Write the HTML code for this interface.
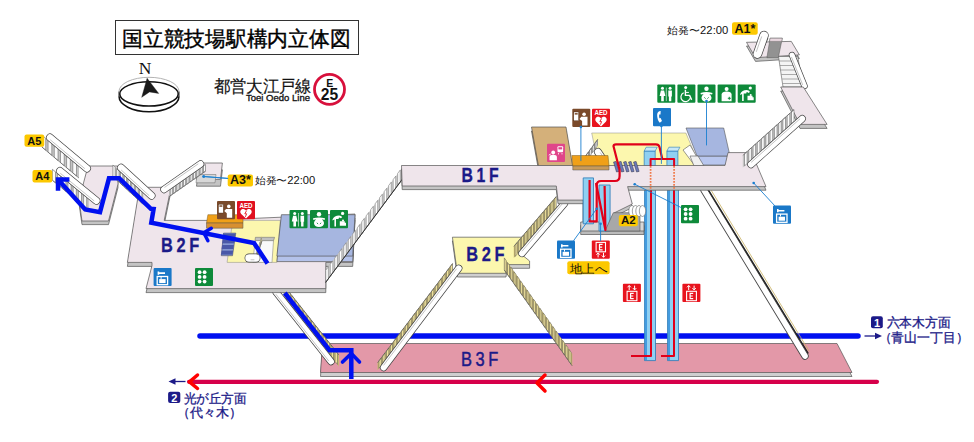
<!DOCTYPE html>
<html><head><meta charset="utf-8"><style>
html,body{margin:0;padding:0;background:#fff;width:974px;height:442px;overflow:hidden}
svg{display:block}
</style></head><body>
<svg width="974" height="442" viewBox="0 0 974 442">
<rect x="115.5" y="20.5" width="243" height="34" fill="#fff" stroke="#333" stroke-width="1"/>
<text x="122" y="45.6" font-size="20.5" fill="#000" font-weight="normal" text-anchor="start" font-family="Liberation Sans" textLength="228.5" lengthAdjust="spacingAndGlyphs" stroke="#000" stroke-width="0.4">国立競技場駅構内立体図</text>
<path d="M119,91.4 A30,14.1 0 0 1 179,91.4" fill="none" stroke="#aaa" stroke-width="0.9"/>
<path d="M119,96.3 A30,15.5 0 0 0 179,96.3" fill="none" stroke="#111" stroke-width="1.5"/>
<path d="M119 91.4v4.9 M179 91.4v4.9" stroke="#333" stroke-width="1.1"/>
<ellipse cx="149" cy="93.9" rx="29.2" ry="12.1" fill="none" stroke="#111" stroke-width="1.5"/>
<path d="M147.1,78.3 L158.7,93.4 L149.5,91.9 L141.7,97.3 Z" fill="#1a1a1a" stroke="#1a1a1a" stroke-width="0.4" />
<text x="145" y="74.3" font-size="17.5" fill="#111" font-weight="normal" text-anchor="middle" font-family="Liberation Serif" >N</text>
<text x="213.5" y="91.7" font-size="16.6" fill="#111" font-weight="normal" text-anchor="start" font-family="Liberation Sans" textLength="98" lengthAdjust="spacingAndGlyphs" stroke="#111" stroke-width="0.2">都営大江戸線</text>
<text x="246" y="100.6" font-size="8.5" fill="#111" font-weight="normal" text-anchor="start" font-family="Liberation Sans" textLength="64" lengthAdjust="spacingAndGlyphs" stroke="#111" stroke-width="0.3">Toei Oedo Line</text>
<circle cx="329.5" cy="89.3" r="15" fill="#fff" stroke="#d8103c" stroke-width="2.8"/>
<text x="329.8" y="86.8" font-size="10.5" fill="#111" font-weight="bold" text-anchor="middle" font-family="Liberation Sans" >E</text>
<text x="329.5" y="100" font-size="15.6" fill="#111" font-weight="bold" text-anchor="middle" font-family="Liberation Sans" >25</text>
<polygon points="322.5,347.5 837.0,347.5 852.0,376.5 320.5,376.5" fill="#cfcfcf" stroke="#555" stroke-width="0.7" stroke-linejoin="round" />
<polygon points="322.5,343.5 837.0,343.5 852.0,372.5 320.5,372.5" fill="#e398a8" stroke="#555" stroke-width="0.7" stroke-linejoin="round" />
<line x1="200.0" y1="336.0" x2="858.0" y2="336.0" stroke="#0010f0" stroke-width="5.5" stroke-linecap="round" />
<line x1="189.0" y1="381.8" x2="877.0" y2="381.8" stroke="#d6004a" stroke-width="4.2" stroke-linecap="round" />
<path d="M197.5,375 L189.5,381.8 L197.5,388.5" fill="none" stroke="#ff0000" stroke-width="3.5" stroke-linecap="round" stroke-linejoin="round"/>
<path d="M545,375 L537,383 L545,391" fill="none" stroke="#ff0000" stroke-width="3.5" stroke-linecap="round" stroke-linejoin="round"/>
<path d="M185.5,381.5 H174" fill="none" stroke="#1c1a88" stroke-width="1.3" />
<path d="M168.5,381.5 L175.5,378.3 L175.5,384.7 Z" fill="#1c1a88" stroke="none" stroke-width="0" />
<path d="M864.5,336 H876" fill="none" stroke="#1c1a88" stroke-width="1.3" />
<path d="M882,336 L875,332.8 L875,339.2 Z" fill="#1c1a88" stroke="none" stroke-width="0" />
<rect x="168.1" y="391.7" width="12.2" height="11.3" rx="2" fill="#1c1a88"/>
<text x="174.4" y="401.6" font-size="11" fill="#fff" font-weight="bold" text-anchor="middle" font-family="Liberation Sans" >2</text>
<text x="183.5" y="402.5" font-size="12.8" fill="#1c1a88" font-weight="normal" text-anchor="start" font-family="Liberation Sans" textLength="63" lengthAdjust="spacingAndGlyphs" stroke="#1c1a88" stroke-width="0.3">光が丘方面</text>
<text x="176.5" y="416.8" font-size="13" fill="#1c1a88" font-weight="normal" text-anchor="start" font-family="Liberation Sans" textLength="65" lengthAdjust="spacingAndGlyphs" stroke="#1c1a88" stroke-width="0.3">（代々木）</text>
<rect x="871" y="316.2" width="11.8" height="12" rx="2" fill="#1c1a88"/>
<text x="877" y="326.9" font-size="11" fill="#fff" font-weight="bold" text-anchor="middle" font-family="Liberation Sans" >1</text>
<text x="886.5" y="327.3" font-size="13" fill="#1c1a88" font-weight="normal" text-anchor="start" font-family="Liberation Sans" textLength="64" lengthAdjust="spacingAndGlyphs" stroke="#1c1a88" stroke-width="0.3">六本木方面</text>
<text x="878.5" y="341.8" font-size="13" fill="#1c1a88" font-weight="normal" text-anchor="start" font-family="Liberation Sans" textLength="90" lengthAdjust="spacingAndGlyphs" stroke="#1c1a88" stroke-width="0.3">（青山一丁目）</text>
<polygon points="284.0,285.6 339.0,355.1 339.0,366.4 284.0,296.9" fill="#c8b870" stroke="none" stroke-width="0" stroke-linejoin="round" />
<path d="M284.0,285.6 L286.4,288.6 L286.4,299.9 L284.0,296.9 Z M288.0,290.6 L290.3,293.6 L290.3,304.9 L288.0,301.9 Z M291.9,295.6 L294.3,298.5 L294.3,309.8 L291.9,306.8 Z M295.8,300.5 L298.2,303.5 L298.2,314.8 L295.8,311.8 Z M299.8,305.5 L302.1,308.5 L302.1,319.8 L299.8,316.8 Z M303.7,310.5 L306.0,313.4 L306.0,324.7 L303.7,321.7 Z M307.6,315.4 L310.0,318.4 L310.0,329.7 L307.6,326.7 Z M311.5,320.4 L313.9,323.4 L313.9,334.6 L311.5,331.7 Z M315.5,325.4 L317.8,328.3 L317.8,339.6 L315.5,336.6 Z M319.4,330.3 L321.8,333.3 L321.8,344.6 L319.4,341.6 Z M323.3,335.3 L325.7,338.3 L325.7,349.5 L323.3,346.6 Z M327.3,340.2 L329.6,343.2 L329.6,354.5 L327.3,351.5 Z M331.2,345.2 L333.5,348.2 L333.5,359.5 L331.2,356.5 Z M335.1,350.2 L337.5,353.2 L337.5,364.4 L335.1,361.5 Z " fill="#efe29a" stroke="#555" stroke-width="0.5" />
<line x1="284.0" y1="285.6" x2="339.0" y2="355.1" stroke="#555" stroke-width="0.6" stroke-linecap="butt" />
<line x1="276.0" y1="292.0" x2="331.0" y2="361.5" stroke="#444" stroke-width="7.4" stroke-linecap="round" />
<line x1="276.0" y1="292.0" x2="331.0" y2="361.5" stroke="#ffffff" stroke-width="6.0" stroke-linecap="round" />
<line x1="276.1" y1="294.5" x2="328.6" y2="360.8" stroke="#9a9a9a" stroke-width="0.6" stroke-linecap="round" />
<polygon points="452.4,240.9 524.6,240.9 521.0,257.7 529.6,264.7 529.6,268.3 507.2,268.3 506.0,277.0 457.4,277.0 456.2,268.3" fill="#cfcfcf" stroke="#555" stroke-width="0.7" stroke-linejoin="round" />
<polygon points="452.4,237.2 524.6,237.2 521.0,254.0 529.6,261.0 529.6,264.6 507.2,264.6 506.0,273.3 457.4,273.3 456.2,264.6" fill="#fcf7ae" stroke="#555" stroke-width="0.7" stroke-linejoin="round" />
<polygon points="452.5,263.6 377.5,362.8 377.5,370.3 452.5,271.1" fill="#c8b870" stroke="none" stroke-width="0" stroke-linejoin="round" />
<path d="M452.5,263.6 L450.3,266.6 L450.3,274.1 L452.5,271.1 Z M448.8,268.6 L446.5,271.6 L446.5,279.0 L448.8,276.0 Z M445.0,273.5 L442.8,276.5 L442.8,284.0 L445.0,281.0 Z M441.3,278.5 L439.0,281.5 L439.0,288.9 L441.3,286.0 Z M437.5,283.5 L435.3,286.4 L435.3,293.9 L437.5,290.9 Z M433.8,288.4 L431.5,291.4 L431.5,298.9 L433.8,295.9 Z M430.0,293.4 L427.8,296.4 L427.8,303.8 L430.0,300.8 Z M426.3,298.3 L424.0,301.3 L424.0,308.8 L426.3,305.8 Z M422.5,303.3 L420.3,306.3 L420.3,313.7 L422.5,310.8 Z M418.8,308.3 L416.5,311.2 L416.5,318.7 L418.8,315.7 Z M415.0,313.2 L412.8,316.2 L412.8,323.7 L415.0,320.7 Z M411.3,318.2 L409.0,321.2 L409.0,328.6 L411.3,325.6 Z M407.5,323.1 L405.3,326.1 L405.3,333.6 L407.5,330.6 Z M403.8,328.1 L401.5,331.1 L401.5,338.5 L403.8,335.6 Z M400.0,333.1 L397.8,336.0 L397.8,343.5 L400.0,340.5 Z M396.3,338.0 L394.0,341.0 L394.0,348.5 L396.3,345.5 Z M392.5,343.0 L390.3,346.0 L390.3,353.4 L392.5,350.4 Z M388.8,347.9 L386.5,350.9 L386.5,358.4 L388.8,355.4 Z M385.0,352.9 L382.8,355.9 L382.8,363.3 L385.0,360.4 Z M381.3,357.9 L379.0,360.8 L379.0,368.3 L381.3,365.3 Z " fill="#efe29a" stroke="#555" stroke-width="0.5" />
<line x1="452.5" y1="263.6" x2="377.5" y2="362.8" stroke="#555" stroke-width="0.6" stroke-linecap="butt" />
<line x1="458.7" y1="268.3" x2="383.7" y2="367.5" stroke="#444" stroke-width="7.4" stroke-linecap="round" />
<line x1="458.7" y1="268.3" x2="383.7" y2="367.5" stroke="#ffffff" stroke-width="6.0" stroke-linecap="round" />
<line x1="456.4" y1="269.0" x2="383.8" y2="365.0" stroke="#9a9a9a" stroke-width="0.6" stroke-linecap="round" />
<polygon points="504.3,270.0 572.3,366.0 572.3,353.9 504.3,257.9" fill="#c8b870" stroke="none" stroke-width="0" stroke-linejoin="round" />
<path d="M504.3,270.0 L506.2,272.8 L506.2,260.7 L504.3,257.9 Z M507.5,274.6 L509.5,277.4 L509.5,265.3 L507.5,262.5 Z M510.8,279.2 L512.7,281.9 L512.7,269.8 L510.8,267.1 Z M514.0,283.8 L515.9,286.5 L515.9,274.4 L514.0,271.7 Z M517.2,288.3 L519.2,291.1 L519.2,279.0 L517.2,276.2 Z M520.5,292.9 L522.4,295.6 L522.4,283.5 L520.5,280.8 Z M523.7,297.5 L525.7,300.2 L525.7,288.1 L523.7,285.4 Z M527.0,302.0 L528.9,304.8 L528.9,292.7 L527.0,289.9 Z M530.2,306.6 L532.1,309.4 L532.1,297.3 L530.2,294.5 Z M533.4,311.2 L535.4,313.9 L535.4,301.8 L533.4,299.1 Z M536.7,315.8 L538.6,318.5 L538.6,306.4 L536.7,303.7 Z M539.9,320.3 L541.8,323.1 L541.8,311.0 L539.9,308.2 Z M543.1,324.9 L545.1,327.6 L545.1,315.5 L543.1,312.8 Z M546.4,329.5 L548.3,332.2 L548.3,320.1 L546.4,317.4 Z M549.6,334.0 L551.6,336.8 L551.6,324.7 L549.6,321.9 Z M552.9,338.6 L554.8,341.4 L554.8,329.3 L552.9,326.5 Z M556.1,343.2 L558.0,345.9 L558.0,333.8 L556.1,331.1 Z M559.3,347.8 L561.3,350.5 L561.3,338.4 L559.3,335.7 Z M562.6,352.3 L564.5,355.1 L564.5,343.0 L562.6,340.2 Z M565.8,356.9 L567.8,359.6 L567.8,347.5 L565.8,344.8 Z M569.0,361.5 L571.0,364.2 L571.0,352.1 L569.0,349.4 Z " fill="#efe29a" stroke="#555" stroke-width="0.5" />
<line x1="504.3" y1="270.0" x2="572.3" y2="366.0" stroke="#555" stroke-width="0.6" stroke-linecap="butt" />
<line x1="704.0" y1="190.0" x2="805.0" y2="356.0" stroke="#4a4a4a" stroke-width="7.4" stroke-linecap="round" />
<line x1="704.0" y1="190.0" x2="805.0" y2="356.0" stroke="#ffffff" stroke-width="5.6" stroke-linecap="round" />
<line x1="708.5" y1="190.0" x2="808.0" y2="353.0" stroke="#222" stroke-width="1.4" stroke-linecap="round" />
<line x1="711.0" y1="190.0" x2="809.0" y2="351.0" stroke="#c8b060" stroke-width="0.8" stroke-linecap="round" />
<polygon points="644.5,189.0 655.5,189.0 655.5,360.6 644.5,360.6" fill="#8fd0f2" stroke="#2a7ab8" stroke-width="0.8" stroke-linejoin="round" />
<line x1="646.0" y1="190.0" x2="646.0" y2="360.0" stroke="#2a8ad8" stroke-width="1.5" stroke-linecap="butt" />
<polygon points="667.5,189.0 678.5,189.0 678.5,360.6 667.5,360.6" fill="#8fd0f2" stroke="#2a7ab8" stroke-width="0.8" stroke-linejoin="round" />
<line x1="669.0" y1="190.0" x2="669.0" y2="360.0" stroke="#2a8ad8" stroke-width="1.5" stroke-linecap="butt" />
<path d="M651,189 V356 H631" fill="none" stroke="#e0001a" stroke-width="2" stroke-linejoin="round"/>
<path d="M674,189 V356 H661" fill="none" stroke="#e0001a" stroke-width="2" stroke-linejoin="round"/>
<polygon points="556.2,196.6 513.8,246.4 513.8,258.0 556.2,208.2" fill="#c8b870" stroke="none" stroke-width="0" stroke-linejoin="round" />
<path d="M556.2,196.6 L554.3,198.9 L554.3,210.5 L556.2,208.2 Z M553.0,200.5 L551.0,202.8 L551.0,214.3 L553.0,212.0 Z M549.7,204.3 L547.7,206.6 L547.7,218.2 L549.7,215.9 Z M546.4,208.1 L544.5,210.4 L544.5,222.0 L546.4,219.7 Z M543.2,212.0 L541.2,214.3 L541.2,225.8 L543.2,223.5 Z M539.9,215.8 L538.0,218.1 L538.0,229.7 L539.9,227.4 Z M536.6,219.6 L534.7,221.9 L534.7,233.5 L536.6,231.2 Z M533.4,223.4 L531.4,225.7 L531.4,237.3 L533.4,235.0 Z M530.1,227.3 L528.2,229.6 L528.2,241.1 L530.1,238.8 Z M526.9,231.1 L524.9,233.4 L524.9,245.0 L526.9,242.7 Z M523.6,234.9 L521.6,237.2 L521.6,248.8 L523.6,246.5 Z M520.3,238.8 L518.4,241.1 L518.4,252.6 L520.3,250.3 Z M517.1,242.6 L515.1,244.9 L515.1,256.5 L517.1,254.2 Z " fill="#efe29a" stroke="#555" stroke-width="0.5" />
<line x1="556.2" y1="196.6" x2="513.8" y2="246.4" stroke="#555" stroke-width="0.6" stroke-linecap="butt" />
<line x1="564.4" y1="203.6" x2="522.0" y2="253.4" stroke="#444" stroke-width="7.4" stroke-linecap="round" />
<line x1="564.4" y1="203.6" x2="522.0" y2="253.4" stroke="#ffffff" stroke-width="6.0" stroke-linecap="round" />
<line x1="562.0" y1="204.2" x2="522.2" y2="251.0" stroke="#9a9a9a" stroke-width="0.6" stroke-linecap="round" />
<polygon points="88.0,169.6 117.5,169.6 118.0,187.6 108.5,224.6 82.0,224.6 79.0,203.6" fill="#c4c4c4" stroke="#555" stroke-width="0.7" stroke-linejoin="round" />
<polygon points="88.0,166.0 117.5,166.0 118.0,184.0 108.5,221.0 82.0,221.0 79.0,200.0" fill="#efe5eb" stroke="#555" stroke-width="0.7" stroke-linejoin="round" />
<polygon points="139.5,191.3 171.0,191.3 164.2,224.4 207.0,224.4 355.0,218.0 352.7,266.4 325.8,266.4 325.8,292.6 146.0,292.6 152.0,269.5 152.0,266.4 127.4,266.4" fill="#c4c4c4" stroke="#555" stroke-width="0.7" stroke-linejoin="round" />
<polygon points="139.5,187.3 171.0,187.3 164.2,220.4 207.0,220.4 355.0,214.0 352.7,262.4 325.8,262.4 325.8,288.6 146.0,288.6 152.0,265.5 152.0,262.4 127.4,262.4" fill="#efe5eb" stroke="#555" stroke-width="0.7" stroke-linejoin="round" />
<polygon points="198.6,169.8 222.4,169.8 220.5,186.2 196.5,186.2" fill="#c4c4c4" stroke="#555" stroke-width="0.7" stroke-linejoin="round" />
<polygon points="198.6,163.0 222.4,163.0 220.5,179.4 196.5,179.4" fill="#efe5eb" stroke="#555" stroke-width="0.7" stroke-linejoin="round" />
<polygon points="197.0,174.5 216.0,174.5 215.0,182.8 196.0,182.8" fill="#d8d8d8" stroke="#666" stroke-width="0.5" stroke-linejoin="round" />
<polygon points="42.0,147.1 79.0,178.1 79.0,166.3 42.0,135.3" fill="#c4c4c4" stroke="none" stroke-width="0" stroke-linejoin="round" />
<path d="M42.0,147.1 L45.7,150.2 L45.7,138.4 L42.0,135.3 Z M48.1,152.2 L51.8,155.3 L51.8,143.6 L48.1,140.5 Z M54.3,157.4 L58.0,160.5 L58.0,148.8 L54.3,145.7 Z M60.5,162.6 L64.2,165.7 L64.2,153.9 L60.5,150.8 Z M66.6,167.7 L70.3,170.8 L70.3,159.1 L66.6,156.0 Z M72.8,172.9 L76.5,176.0 L76.5,164.3 L72.8,161.2 Z " fill="#fbfbfb" stroke="#555" stroke-width="0.5" />
<line x1="42.0" y1="147.1" x2="79.0" y2="178.1" stroke="#555" stroke-width="0.6" stroke-linecap="butt" />
<line x1="50.0" y1="137.5" x2="87.0" y2="168.5" stroke="#444" stroke-width="7.9" stroke-linecap="round" />
<line x1="50.0" y1="137.5" x2="87.0" y2="168.5" stroke="#ffffff" stroke-width="6.5" stroke-linecap="round" />
<line x1="50.5" y1="140.0" x2="84.5" y2="168.4" stroke="#9a9a9a" stroke-width="0.6" stroke-linecap="round" />
<polygon points="52.4,180.3 88.8,210.1 88.8,199.1 52.4,169.3" fill="#c4c4c4" stroke="none" stroke-width="0" stroke-linejoin="round" />
<path d="M52.4,180.3 L55.5,182.8 L55.5,171.9 L52.4,169.3 Z M57.6,184.5 L60.7,187.1 L60.7,176.1 L57.6,173.6 Z M62.8,188.8 L65.9,191.4 L65.9,180.4 L62.8,177.8 Z M68.0,193.1 L71.1,195.6 L71.1,184.6 L68.0,182.1 Z M73.2,197.3 L76.3,199.9 L76.3,188.9 L73.2,186.3 Z M78.4,201.6 L81.5,204.1 L81.5,193.1 L78.4,190.6 Z M83.6,205.8 L86.7,208.4 L86.7,197.4 L83.6,194.8 Z " fill="#fbfbfb" stroke="#555" stroke-width="0.5" />
<line x1="52.4" y1="180.3" x2="88.8" y2="210.1" stroke="#555" stroke-width="0.6" stroke-linecap="butt" />
<line x1="60.0" y1="171.0" x2="96.4" y2="200.8" stroke="#444" stroke-width="7.9" stroke-linecap="round" />
<line x1="60.0" y1="171.0" x2="96.4" y2="200.8" stroke="#ffffff" stroke-width="6.5" stroke-linecap="round" />
<line x1="60.6" y1="173.5" x2="93.9" y2="200.7" stroke="#9a9a9a" stroke-width="0.6" stroke-linecap="round" />
<polygon points="112.9,176.5 143.4,204.5 143.4,193.0 112.9,165.0" fill="#c4c4c4" stroke="none" stroke-width="0" stroke-linejoin="round" />
<path d="M112.9,176.5 L115.2,178.6 L115.2,167.1 L112.9,165.0 Z M116.7,180.0 L119.0,182.1 L119.0,170.6 L116.7,168.5 Z M120.5,183.5 L122.8,185.6 L122.8,174.1 L120.5,172.0 Z M124.3,187.0 L126.6,189.1 L126.6,177.6 L124.3,175.5 Z M128.1,190.5 L130.4,192.6 L130.4,181.1 L128.1,179.0 Z M131.9,194.0 L134.2,196.1 L134.2,184.6 L131.9,182.5 Z M135.8,197.5 L138.0,199.6 L138.0,188.1 L135.8,186.0 Z M139.6,201.0 L141.9,203.1 L141.9,191.6 L139.6,189.5 Z " fill="#fbfbfb" stroke="#555" stroke-width="0.5" />
<line x1="112.9" y1="176.5" x2="143.4" y2="204.5" stroke="#555" stroke-width="0.6" stroke-linecap="butt" />
<line x1="121.0" y1="167.7" x2="151.5" y2="195.7" stroke="#444" stroke-width="7.9" stroke-linecap="round" />
<line x1="121.0" y1="167.7" x2="151.5" y2="195.7" stroke="#ffffff" stroke-width="6.5" stroke-linecap="round" />
<line x1="121.4" y1="170.2" x2="149.0" y2="195.5" stroke="#9a9a9a" stroke-width="0.6" stroke-linecap="round" />
<polygon points="205.5,171.2 169.0,196.7 169.0,190.0 205.5,164.5" fill="#c4c4c4" stroke="none" stroke-width="0" stroke-linejoin="round" />
<path d="M205.5,171.2 L203.5,172.6 L203.5,165.9 L205.5,164.5 Z M202.2,173.5 L200.2,174.9 L200.2,168.2 L202.2,166.8 Z M198.9,175.8 L196.9,177.2 L196.9,170.5 L198.9,169.1 Z M195.6,178.1 L193.6,179.5 L193.6,172.8 L195.6,171.4 Z M192.2,180.4 L190.2,181.8 L190.2,175.1 L192.2,173.7 Z M188.9,182.8 L186.9,184.2 L186.9,177.4 L188.9,176.1 Z M185.6,185.1 L183.6,186.5 L183.6,179.8 L185.6,178.4 Z M182.3,187.4 L180.3,188.8 L180.3,182.1 L182.3,180.7 Z M179.0,189.7 L177.0,191.1 L177.0,184.4 L179.0,183.0 Z M175.6,192.0 L173.7,193.4 L173.7,186.7 L175.6,185.3 Z M172.3,194.4 L170.3,195.7 L170.3,189.0 L172.3,187.6 Z " fill="#fbfbfb" stroke="#555" stroke-width="0.5" />
<line x1="205.5" y1="171.2" x2="169.0" y2="196.7" stroke="#555" stroke-width="0.6" stroke-linecap="butt" />
<line x1="200.5" y1="164.0" x2="164.0" y2="189.5" stroke="#444" stroke-width="7.4" stroke-linecap="round" />
<line x1="200.5" y1="164.0" x2="164.0" y2="189.5" stroke="#ffffff" stroke-width="6.0" stroke-linecap="round" />
<line x1="198.0" y1="164.0" x2="164.8" y2="187.2" stroke="#9a9a9a" stroke-width="0.6" stroke-linecap="round" />
<polygon points="244.0,220.4 280.3,220.4 276.9,262.4 227.1,262.4 231.6,228.3" fill="#fcf7ae" stroke="#888" stroke-width="0.5" stroke-linejoin="round" />
<polygon points="281.4,220.2 355.0,220.2 352.7,261.6 276.9,261.6" fill="#b4c2ea" stroke="#555" stroke-width="0.7" stroke-linejoin="round" />
<polygon points="281.4,214.7 355.0,214.7 352.7,256.1 276.9,256.1" fill="#a6b6e0" stroke="#555" stroke-width="0.7" stroke-linejoin="round" />
<polygon points="223.5,233.1 235.8,233.1 232.5,255.7 221.3,255.7" fill="#9aaee0" stroke="#334" stroke-width="0.5" stroke-linejoin="round" />
<polygon points="223.3,233.6 235.6,233.6 234.9,238.0 222.6,238.0" fill="#4a58a8" stroke="none" stroke-width="0" stroke-linejoin="round" />
<polygon points="222.8,239.2 234.8,239.2 234.1,243.6 222.0,243.6" fill="#4a58a8" stroke="none" stroke-width="0" stroke-linejoin="round" />
<polygon points="222.2,244.8 234.0,244.8 233.3,249.2 221.5,249.2" fill="#4a58a8" stroke="none" stroke-width="0" stroke-linejoin="round" />
<polygon points="221.7,250.4 233.2,250.4 232.5,254.8 220.9,254.8" fill="#4a58a8" stroke="none" stroke-width="0" stroke-linejoin="round" />
<polygon points="255.4,237.3 274.6,237.3 273.5,240.7 255.0,240.7" fill="#c0c0c0" stroke="#666" stroke-width="0.5" stroke-linejoin="round" />
<polygon points="255.0,240.7 273.5,240.7 272.0,262.4 253.0,262.4" fill="#fafafa" stroke="#777" stroke-width="0.5" stroke-linejoin="round" />
<polygon points="255.0,262.0 262.0,241.0 262.0,236.0 255.0,257.0" fill="#d8cc88" stroke="none" stroke-width="0" stroke-linejoin="round" />
<path d="M255.0,262.0 L255.8,259.5 L255.8,254.5 L255.0,257.0 Z M256.4,257.8 L257.2,255.3 L257.2,250.3 L256.4,252.8 Z M257.8,253.6 L258.6,251.1 L258.6,246.1 L257.8,248.6 Z M259.2,249.4 L260.0,246.9 L260.0,241.9 L259.2,244.4 Z M260.6,245.2 L261.4,242.7 L261.4,237.7 L260.6,240.2 Z " fill="#f4ecb0" stroke="#777" stroke-width="0.5" />
<line x1="255.0" y1="262.0" x2="262.0" y2="241.0" stroke="#555" stroke-width="0.6" stroke-linecap="butt" />
<line x1="249.0" y1="258.0" x2="256.0" y2="258.0" stroke="#444" stroke-width="8.9" stroke-linecap="round" />
<line x1="249.0" y1="258.0" x2="256.0" y2="258.0" stroke="#ffffff" stroke-width="7.5" stroke-linecap="round" />
<line x1="251.0" y1="259.8" x2="254.0" y2="259.8" stroke="#9a9a9a" stroke-width="0.6" stroke-linecap="round" />
<polygon points="207.9,214.7 243.0,214.7 243.0,223.0 206.5,223.0" fill="#f0a018" stroke="#7a5a20" stroke-width="0.5" stroke-linejoin="round" />
<polygon points="206.5,223.0 243.0,223.0 243.0,228.2 206.5,228.2" fill="#d89030" stroke="#555" stroke-width="0.5" stroke-linejoin="round" />
<rect x="217" y="201" width="18" height="18.2" rx="1" fill="#7a4a2a"/>
<g transform="translate(217,201)"><rect x="1.5" y="3.2" width="4.8" height="8.8" fill="#fff" stroke="#4a2a10" stroke-width="0.4"/><rect x="2.4" y="4.3" width="3" height="1.5" fill="#7a4a2a"/><circle cx="11.8" cy="5.4" r="1.8" fill="#fff"/><path d="M9 8h6.2v8.8h-5.4v-4.5l-2.6-2.2 0.8-0.8z" fill="#fff"/></g>
<rect x="237" y="201" width="18" height="18.2" rx="1" fill="#e01020"/>
<g transform="translate(237,201)"><text x="9" y="6.6" font-size="6.6" font-weight="bold" textLength="13" lengthAdjust="spacingAndGlyphs" fill="#fff" text-anchor="middle" font-family="Liberation Sans">AED</text><path d="M9 17.6l-4.8-4.6c-1.4-1.5-1.2-3.9 0.6-4.8 1.5-0.7 3.2-0.1 4.2 1.4 1-1.5 2.7-2.1 4.2-1.4 1.8 0.9 2 3.3 0.6 4.8z" fill="#fff"/><path d="M9.6 9.6l-1.8 3.2h1.8l-1.2 3" stroke="#e8141e" stroke-width="0.9" fill="none"/></g>
<rect x="289.5" y="210" width="18" height="18.2" rx="1" fill="#0e8a3a"/>
<g transform="translate(289.5,210)"><circle cx="5.2" cy="3.6" r="1.5" fill="#fff"/><path d="M3.6 5.8h3.2l1.3 5.6h-1.6v5.2h-2.6v-5.2h-1.6z" fill="#fff"/><path d="M9 3v13.5" stroke="#fff" stroke-width="0.6"/><circle cx="12.8" cy="3.6" r="1.5" fill="#fff"/><path d="M11 5.8h3.6v6h-0.6v4.8h-2.4v-4.8h-0.6z" fill="#fff"/></g>
<rect x="310" y="210" width="18" height="18.2" rx="1" fill="#0e8a3a"/>
<g transform="translate(310,210)"><circle cx="9" cy="4.2" r="2.2" fill="#fff"/><path d="M3 8.3c2-0.6 4-0.8 6-0.8s4 0.2 6 0.8l-0.4 1.6c-1.2-0.2-2.2-0.3-2.8-0.3 1.5 1 2.2 2.2 2.2 3.7 0 2.4-2.2 3.6-5 3.6s-5-1.2-5-3.6c0-1.5 0.7-2.7 2.2-3.7-0.6 0-1.6 0.1-2.8 0.3z" fill="#fff"/><path d="M6.8 12.8l1.3 1.2M11.2 12.8l-1.3 1.2" stroke="#0e8a3a" stroke-width="0.9"/></g>
<rect x="330" y="210" width="18" height="18.2" rx="1" fill="#0e8a3a"/>
<g transform="translate(330,210)"><circle cx="12.6" cy="3.4" r="1.6" fill="#fff"/><path d="M2.5 9.5c1-2.5 3.5-4 6.5-4 1.5 0 2.5 0.8 3.2 1.8l-1.4 1c-0.6-0.6-1.2-0.9-1.8-0.9l-0.5 1.6h-2.5v7.5h-1.6v-7c-0.8 0.3-1.4 0.6-1.9 1z" fill="#fff"/><path d="M9.8 11.2h5v1.5h1.2v3h-6.2z" fill="#fff"/><circle cx="13" cy="10.5" r="1" fill="#fff"/></g>
<rect x="153.6" y="267.9" width="18" height="18.2" rx="1" fill="#1a78c8"/>
<g transform="translate(153.6,267.9)"><path d="M4.8 3.6v3.2M4.8 5.2h6.6" stroke="#fff" stroke-width="1.6"/><rect x="3.6" y="8.6" width="10.4" height="8.2" fill="none" stroke="#fff" stroke-width="1.3"/><rect x="5.6" y="11.2" width="6.4" height="4" fill="#fff"/><path d="M7.5 8.6v2.4" stroke="#fff" stroke-width="1"/></g>
<rect x="195" y="267.9" width="18" height="18.2" rx="1" fill="#0e8a3a"/>
<g transform="translate(195,267.9)"><circle cx="4.6" cy="4.3" r="1.9" fill="#fff"/><circle cx="4.6" cy="9" r="1.9" fill="#fff"/><circle cx="4.6" cy="13.7" r="1.9" fill="#fff"/><circle cx="9.6" cy="4.3" r="1.9" fill="#fff"/><circle cx="9.6" cy="9" r="1.9" fill="#fff"/><circle cx="9.6" cy="13.7" r="1.9" fill="#fff"/></g>
<rect x="24.5" y="134.5" width="19.700000000000003" height="12.199999999999989" rx="2" fill="#fcc800"/>
<text x="34.35" y="144.5" font-size="11" fill="#111" font-weight="bold" text-anchor="middle" font-family="Liberation Sans" >A5</text>
<rect x="32.5" y="170" width="19.799999999999997" height="12.5" rx="2" fill="#fcc800"/>
<text x="42.4" y="180.3" font-size="11" fill="#111" font-weight="bold" text-anchor="middle" font-family="Liberation Sans" >A4</text>
<rect x="227.7" y="174.4" width="25.30000000000001" height="12.199999999999989" rx="2" fill="#fcc800"/>
<text x="240.35" y="184.4" font-size="12.5" fill="#111" font-weight="bold" text-anchor="middle" font-family="Liberation Sans" >A3*</text>
<text x="254.7" y="184" font-size="10.3" fill="#111" font-weight="normal" text-anchor="start" font-family="Liberation Sans" textLength="60.5" lengthAdjust="spacingAndGlyphs" >始発〜22:00</text>
<line x1="203.7" y1="176.5" x2="227.7" y2="178.4" stroke="#1a7fd0" stroke-width="0.9" stroke-linecap="round" />
<circle cx="203.7" cy="176.5" r="1.3" fill="#1a7fd0"/>
<polygon points="325.8,282.2 402.2,179.4 402.2,167.4 325.8,270.2" fill="#cfcfcf" stroke="none" stroke-width="0" stroke-linejoin="round" />
<path d="M325.8,282.2 L328.3,278.9 L328.3,266.9 L325.8,270.2 Z M330.3,276.2 L332.8,272.8 L332.8,260.8 L330.3,264.2 Z M334.8,270.1 L337.3,266.8 L337.3,254.8 L334.8,258.1 Z M339.3,264.1 L341.8,260.7 L341.8,248.7 L339.3,252.1 Z M343.8,258.0 L346.2,254.7 L346.2,242.7 L343.8,246.0 Z M348.3,252.0 L350.7,248.6 L350.7,236.6 L348.3,240.0 Z M352.8,245.9 L355.2,242.6 L355.2,230.6 L352.8,233.9 Z M357.3,239.9 L359.7,236.5 L359.7,224.5 L357.3,227.9 Z M361.8,233.8 L364.2,230.5 L364.2,218.5 L361.8,221.8 Z M366.2,227.8 L368.7,224.5 L368.7,212.5 L366.2,215.8 Z M370.7,221.7 L373.2,218.4 L373.2,206.4 L370.7,209.7 Z M375.2,215.7 L377.7,212.4 L377.7,200.4 L375.2,203.7 Z M379.7,209.6 L382.2,206.3 L382.2,194.3 L379.7,197.6 Z M384.2,203.6 L386.7,200.3 L386.7,188.3 L384.2,191.6 Z M388.7,197.5 L391.2,194.2 L391.2,182.2 L388.7,185.5 Z M393.2,191.5 L395.7,188.2 L395.7,176.2 L393.2,179.5 Z M397.7,185.4 L400.2,182.1 L400.2,170.1 L397.7,173.4 Z " fill="#ffffff" stroke="#666" stroke-width="0.5" />
<line x1="325.8" y1="282.2" x2="402.2" y2="179.4" stroke="#555" stroke-width="0.6" stroke-linecap="butt" />
<line x1="325.8" y1="282.2" x2="402.2" y2="179.4" stroke="#333" stroke-width="1" stroke-linecap="round" />
<polygon points="531.5,131.0 566.0,131.0 572.6,170.0 538.5,170.0" fill="#b89a70" stroke="#555" stroke-width="0.7" stroke-linejoin="round" />
<polygon points="531.5,127.0 566.0,127.0 572.6,166.0 538.5,166.0" fill="#d4b07a" stroke="#555" stroke-width="0.7" stroke-linejoin="round" />
<rect x="547" y="143.7" width="18" height="18.2" rx="1" fill="#e0468a"/>
<g transform="translate(547,143.7)"><circle cx="6.2" cy="8.8" r="1.9" fill="#fff"/><path d="M2.5 16.5v-3.2c0-1.4 1.5-2.2 3.7-2.2s3.7 0.8 3.7 2.2v3.2z" fill="#fff"/><path d="M1.8 11.5l2-1.2" stroke="#fff" stroke-width="1"/><rect x="10.5" y="2.5" width="5.6" height="6" rx="1" fill="#fff"/><rect x="11.4" y="3.5" width="3.8" height="2.2" fill="#e0468a"/><path d="M11.5 9.5v1.2M15 9.5v1.2" stroke="#fff" stroke-width="0.9"/></g>
<path d="M591.7,133 L685.9,133 L700,166.2 L597,166.2 Q596,150 591.7,133 Z" fill="#fcf7ae" stroke="#888" stroke-width="0.5" />
<polygon points="584.0,158.0 598.0,139.0 598.0,145.0 584.0,164.0" fill="#a8a8a8" stroke="none" stroke-width="0" stroke-linejoin="round" />
<path d="M584.0,158.0 L585.7,155.7 L585.7,161.7 L584.0,164.0 Z M586.8,154.2 L588.5,151.9 L588.5,157.9 L586.8,160.2 Z M589.6,150.4 L591.3,148.1 L591.3,154.1 L589.6,156.4 Z M592.4,146.6 L594.1,144.3 L594.1,150.3 L592.4,152.6 Z M595.2,142.8 L596.9,140.5 L596.9,146.5 L595.2,148.8 Z " fill="#fafafa" stroke="#555" stroke-width="0.5" />
<line x1="584.0" y1="158.0" x2="598.0" y2="139.0" stroke="#555" stroke-width="0.6" stroke-linecap="butt" />
<line x1="602.0" y1="158.0" x2="598.0" y2="152.0" stroke="#444" stroke-width="7.9" stroke-linecap="round" />
<line x1="602.0" y1="158.0" x2="598.0" y2="152.0" stroke="#ffffff" stroke-width="6.5" stroke-linecap="round" />
<line x1="602.2" y1="155.5" x2="600.4" y2="152.8" stroke="#9a9a9a" stroke-width="0.6" stroke-linecap="round" />
<polygon points="644.2,151.0 655.2,151.0 655.2,166.0 644.2,166.0" fill="#8fd0f2" stroke="#2a7ab8" stroke-width="0.7" stroke-linejoin="round" />
<polygon points="644.2,151.0 646.2,147.2 657.2,147.2 655.2,151.0" fill="#c8e8f8" stroke="#2a7ab8" stroke-width="0.6" stroke-linejoin="round" />
<polygon points="666.9,151.0 677.9,151.0 677.9,166.0 666.9,166.0" fill="#8fd0f2" stroke="#2a7ab8" stroke-width="0.7" stroke-linejoin="round" />
<polygon points="666.9,151.0 668.9,147.2 679.9,147.2 677.9,151.0" fill="#c8e8f8" stroke="#2a7ab8" stroke-width="0.6" stroke-linejoin="round" />
<polygon points="697.0,156.0 730.0,156.0 730.0,165.0 697.0,165.0" fill="#b8c6ee" stroke="#555" stroke-width="0.6" stroke-linejoin="round" />
<polygon points="686.0,128.0 723.7,128.0 730.0,156.0 697.0,156.0" fill="#a6b6e0" stroke="#555" stroke-width="0.6" stroke-linejoin="round" />
<polygon points="683.0,150.0 690.0,145.0 702.0,166.0 695.0,166.0" fill="#fff" stroke="#555" stroke-width="0.6" stroke-linejoin="round" />
<polygon points="690.0,156.0 698.0,156.0 704.0,166.0 694.0,166.0" fill="#f0f0f0" stroke="#555" stroke-width="0.6" stroke-linejoin="round" />
<polygon points="401.5,169.1 725.0,169.1 728.0,156.2 751.5,156.2 766.0,190.2 627.6,190.2 632.3,207.6 614.0,216.6 612.0,229.6 583.2,229.6 583.2,203.7 558.0,203.7 556.3,189.6 402.2,189.6" fill="#c4c4c4" stroke="#555" stroke-width="0.7" stroke-linejoin="round" />
<polygon points="401.5,165.5 725.0,165.5 728.0,152.6 751.5,152.6 766.0,186.6 627.6,186.6 632.3,204.0 614.0,213.0 612.0,226.0 583.2,226.0 583.2,200.1 558.0,200.1 556.3,186.0 402.2,186.0" fill="#efe5eb" stroke="#555" stroke-width="0.7" stroke-linejoin="round" />
<polygon points="571.8,155.5 608.0,155.5 609.0,166.0 572.8,166.0" fill="#f0a018" stroke="#7a5a20" stroke-width="0.5" stroke-linejoin="round" />
<polygon points="572.8,166.0 609.0,166.0 609.0,170.0 572.8,170.0" fill="#c89a5a" stroke="#555" stroke-width="0.5" stroke-linejoin="round" />
<path d="M613.5,162 l2.6,-0.6 l3,10 l-2.6,0.6 z" fill="#6a78b8" stroke="#334" stroke-width="0.5" />
<path d="M618.5,162 l2.6,-0.6 l3,10 l-2.6,0.6 z" fill="#6a78b8" stroke="#334" stroke-width="0.5" />
<path d="M623.5,162 l2.6,-0.6 l3,10 l-2.6,0.6 z" fill="#6a78b8" stroke="#334" stroke-width="0.5" />
<path d="M628.5,162 l2.6,-0.6 l3,10 l-2.6,0.6 z" fill="#6a78b8" stroke="#334" stroke-width="0.5" />
<path d="M633.5,162 l2.6,-0.6 l3,10 l-2.6,0.6 z" fill="#6a78b8" stroke="#334" stroke-width="0.5" />
<path d="M650.6,166 V159 H674.1 V166" fill="none" stroke="#e0001a" stroke-width="2" stroke-linejoin="round"/>
<path d="M650.6,166 V189 M674.1,166 V189" fill="none" stroke="#f07848" stroke-width="1.7" stroke-dasharray="1.7,1.3"/>
<polygon points="580.7,225.5 644.0,225.5 644.0,234.5 580.7,234.5" fill="#bbb" stroke="#555" stroke-width="0.7" stroke-linejoin="round" />
<polygon points="580.7,222.0 644.0,222.0 644.0,231.0 580.7,231.0" fill="#d8d8d8" stroke="#555" stroke-width="0.7" stroke-linejoin="round" />
<polygon points="583.2,177.9 593.5,177.9 593.5,223.8 583.2,223.8" fill="#8fd0f2" stroke="#2a7ab8" stroke-width="0.8" stroke-linejoin="round" />
<polygon points="599.0,185.0 610.1,185.0 610.1,231.0 599.0,231.0" fill="#8fd0f2" stroke="#2a7ab8" stroke-width="0.8" stroke-linejoin="round" />
<polygon points="613.3,212.7 640.0,212.7 640.0,231.0 605.0,231.0" fill="#a8a8a8" stroke="#555" stroke-width="0.6" stroke-linejoin="round" />
<ellipse cx="632.0" cy="211" rx="3.2" ry="5.5" fill="#fff" stroke="#666" stroke-width="0.6"/>
<ellipse cx="635.5" cy="211" rx="3.2" ry="5.5" fill="#fff" stroke="#666" stroke-width="0.6"/>
<ellipse cx="639.0" cy="211" rx="3.2" ry="5.5" fill="#fff" stroke="#666" stroke-width="0.6"/>
<ellipse cx="642.5" cy="211" rx="3.2" ry="5.5" fill="#fff" stroke="#666" stroke-width="0.6"/>
<rect x="618.8" y="215.1" width="19.0" height="11.099999999999994" rx="2" fill="#fcc800"/>
<text x="628.3" y="224.0" font-size="11.5" fill="#111" font-weight="bold" text-anchor="middle" font-family="Liberation Sans" >A2</text>
<path d="M589.6,180 V221.4 H596.7 V185 Q597,181 601,181 H615 Q619.6,181 619.6,176 V170 L613.5,146.3 Q613.5,144.4 616,144.4 H656 Q658.7,144.4 659.5,147 L662.3,159" fill="none" stroke="#e0001a" stroke-width="2.2" stroke-linejoin="round"/>
<path d="M596,183 L605.4,230 L604.6,186" fill="none" stroke="#e0001a" stroke-width="2.2" stroke-linejoin="round"/>
<rect x="557" y="240.6" width="18" height="18.2" rx="1" fill="#1a78c8"/>
<g transform="translate(557,240.6)"><path d="M4.8 3.6v3.2M4.8 5.2h6.6" stroke="#fff" stroke-width="1.6"/><rect x="3.6" y="8.6" width="10.4" height="8.2" fill="none" stroke="#fff" stroke-width="1.3"/><rect x="5.6" y="11.2" width="6.4" height="4" fill="#fff"/><path d="M7.5 8.6v2.4" stroke="#fff" stroke-width="1"/></g>
<rect x="591.8" y="240.6" width="18" height="18.2" rx="1" fill="#e8141e"/>
<g transform="translate(591.8,240.6)"><rect x="4.3" y="1.8" width="9.4" height="9.4" fill="none" stroke="#fff" stroke-width="1.1"/><path d="M7.2 3.8h3.6M7.2 6.5h3.2M7.2 9.2h3.6M7.7 3.8v5.4" stroke="#fff" stroke-width="1.2"/><path d="M6.3 16.8v-4.4M4.6 14.1l1.7-1.8 1.7 1.8 M11.7 12.2v4.4M10 14.9l1.7 1.8 1.7-1.8" stroke="#fff" stroke-width="1" fill="none"/></g>
<rect x="567.3" y="261.3" width="42.3" height="13" rx="2" fill="#fcc800"/>
<text x="569.8" y="273.3" font-size="12.2" fill="#111" font-weight="normal" text-anchor="start" font-family="Liberation Sans" textLength="37.5" lengthAdjust="spacingAndGlyphs" >地上へ</text>
<rect x="653" y="108" width="18" height="18.2" rx="1" fill="#1a78c8"/>
<g transform="translate(653,108)"><path d="M6.2 3.2c-1.6 0.6-2.2 2.5-2 5 0.2 2.5 1.1 5 2.6 6.5l2.2-1.6-1.4-3.2-1.2 0.4c-0.4-1.2-0.4-2.7-0.2-3.8l1.3-0.1 0.2-3.5z" fill="#fff"/></g>
<rect x="572.3" y="108.8" width="18" height="18.2" rx="1" fill="#7a4a2a"/>
<g transform="translate(572.3,108.8)"><rect x="1.5" y="3.2" width="4.8" height="8.8" fill="#fff" stroke="#4a2a10" stroke-width="0.4"/><rect x="2.4" y="4.3" width="3" height="1.5" fill="#7a4a2a"/><circle cx="11.8" cy="5.4" r="1.8" fill="#fff"/><path d="M9 8h6.2v8.8h-5.4v-4.5l-2.6-2.2 0.8-0.8z" fill="#fff"/></g>
<rect x="592" y="108.8" width="18" height="18.2" rx="1" fill="#e8141e"/>
<g transform="translate(592,108.8)"><text x="9" y="6.6" font-size="6.6" font-weight="bold" textLength="13" lengthAdjust="spacingAndGlyphs" fill="#fff" text-anchor="middle" font-family="Liberation Sans">AED</text><path d="M9 17.6l-4.8-4.6c-1.4-1.5-1.2-3.9 0.6-4.8 1.5-0.7 3.2-0.1 4.2 1.4 1-1.5 2.7-2.1 4.2-1.4 1.8 0.9 2 3.3 0.6 4.8z" fill="#fff"/><path d="M9.6 9.6l-1.8 3.2h1.8l-1.2 3" stroke="#e8141e" stroke-width="0.9" fill="none"/></g>
<rect x="657.3" y="84.6" width="18" height="18.2" rx="1" fill="#0e8a3a"/>
<g transform="translate(657.3,84.6)"><circle cx="5.2" cy="3.6" r="1.5" fill="#fff"/><path d="M3.6 5.8h3.2l1.3 5.6h-1.6v5.2h-2.6v-5.2h-1.6z" fill="#fff"/><path d="M9 3v13.5" stroke="#fff" stroke-width="0.6"/><circle cx="12.8" cy="3.6" r="1.5" fill="#fff"/><path d="M11 5.8h3.6v6h-0.6v4.8h-2.4v-4.8h-0.6z" fill="#fff"/></g>
<rect x="677.4" y="84.6" width="18" height="18.2" rx="1" fill="#0e8a3a"/>
<g transform="translate(677.4,84.6)"><circle cx="8.3" cy="2.9" r="1.5" fill="#fff"/><path d="M8 5.2v5.6h4.2l2 4.5" stroke="#fff" stroke-width="1.4" fill="none" stroke-linejoin="round"/><path d="M6.3 8.2a4.6 4.6 0 1 0 6.2 5.6" stroke="#fff" stroke-width="1.2" fill="none"/><path d="M8.3 7.8h3.2" stroke="#fff" stroke-width="1"/></g>
<rect x="697.5" y="84.6" width="18" height="18.2" rx="1" fill="#0e8a3a"/>
<g transform="translate(697.5,84.6)"><circle cx="9" cy="4.2" r="2.2" fill="#fff"/><path d="M3 8.3c2-0.6 4-0.8 6-0.8s4 0.2 6 0.8l-0.4 1.6c-1.2-0.2-2.2-0.3-2.8-0.3 1.5 1 2.2 2.2 2.2 3.7 0 2.4-2.2 3.6-5 3.6s-5-1.2-5-3.6c0-1.5 0.7-2.7 2.2-3.7-0.6 0-1.6 0.1-2.8 0.3z" fill="#fff"/><path d="M6.8 12.8l1.3 1.2M11.2 12.8l-1.3 1.2" stroke="#0e8a3a" stroke-width="0.9"/></g>
<rect x="717.5999999999999" y="84.6" width="18" height="18.2" rx="1" fill="#0e8a3a"/>
<g transform="translate(717.5999999999999,84.6)"><circle cx="9" cy="4.3" r="2" fill="#fff"/><path d="M4 16.6v-6.8c0-1.8 2-3 5-3s5 1.2 5 3v6.8z" fill="#fff"/><path d="M11.7 12.2v3M10.2 13.7h3" stroke="#0e8a3a" stroke-width="1"/></g>
<rect x="737.6999999999999" y="84.6" width="18" height="18.2" rx="1" fill="#0e8a3a"/>
<g transform="translate(737.6999999999999,84.6)"><circle cx="12.6" cy="3.4" r="1.6" fill="#fff"/><path d="M2.5 9.5c1-2.5 3.5-4 6.5-4 1.5 0 2.5 0.8 3.2 1.8l-1.4 1c-0.6-0.6-1.2-0.9-1.8-0.9l-0.5 1.6h-2.5v7.5h-1.6v-7c-0.8 0.3-1.4 0.6-1.9 1z" fill="#fff"/><path d="M9.8 11.2h5v1.5h1.2v3h-6.2z" fill="#fff"/><circle cx="13" cy="10.5" r="1" fill="#fff"/></g>
<rect x="681" y="205" width="18" height="18.2" rx="1" fill="#0e8a3a"/>
<g transform="translate(681,205)"><circle cx="4.6" cy="4.3" r="1.9" fill="#fff"/><circle cx="4.6" cy="9" r="1.9" fill="#fff"/><circle cx="4.6" cy="13.7" r="1.9" fill="#fff"/><circle cx="9.6" cy="4.3" r="1.9" fill="#fff"/><circle cx="9.6" cy="9" r="1.9" fill="#fff"/><circle cx="9.6" cy="13.7" r="1.9" fill="#fff"/></g>
<rect x="773" y="205.5" width="18" height="18.2" rx="1" fill="#1a78c8"/>
<g transform="translate(773,205.5)"><path d="M4.8 3.6v3.2M4.8 5.2h6.6" stroke="#fff" stroke-width="1.6"/><rect x="3.6" y="8.6" width="10.4" height="8.2" fill="none" stroke="#fff" stroke-width="1.3"/><rect x="5.6" y="11.2" width="6.4" height="4" fill="#fff"/><path d="M7.5 8.6v2.4" stroke="#fff" stroke-width="1"/></g>
<rect x="622.9" y="283.8" width="18" height="18.2" rx="1" fill="#e8141e"/>
<g transform="translate(622.9,283.8)"><path d="M6.3 6.2v-4.4M4.6 3.5l1.7-1.8 1.7 1.8 M11.7 1.8v4.4M10 4.3l1.7 1.8 1.7-1.8" stroke="#fff" stroke-width="1" fill="none"/><rect x="4.2" y="7.5" width="9.8" height="9.4" fill="none" stroke="#fff" stroke-width="1.1"/><path d="M7.2 9.6h3.6M7.2 12.2h3.2M7.2 14.8h3.6M7.7 9.6v5.2" stroke="#fff" stroke-width="1.2"/></g>
<rect x="682.4" y="283.8" width="18" height="18.2" rx="1" fill="#e8141e"/>
<g transform="translate(682.4,283.8)"><path d="M6.3 6.2v-4.4M4.6 3.5l1.7-1.8 1.7 1.8 M11.7 1.8v4.4M10 4.3l1.7 1.8 1.7-1.8" stroke="#fff" stroke-width="1" fill="none"/><rect x="4.2" y="7.5" width="9.8" height="9.4" fill="none" stroke="#fff" stroke-width="1.1"/><path d="M7.2 9.6h3.6M7.2 12.2h3.2M7.2 14.8h3.6M7.7 9.6v5.2" stroke="#fff" stroke-width="1.2"/></g>
<line x1="634.7" y1="184.2" x2="681.0" y2="207.5" stroke="#1a7fd0" stroke-width="0.9" stroke-linecap="round" />
<circle cx="634.7" cy="184.2" r="1.3" fill="#1a7fd0"/>
<line x1="753.7" y1="183.0" x2="775.0" y2="206.0" stroke="#1a7fd0" stroke-width="0.9" stroke-linecap="round" />
<circle cx="753.7" cy="183" r="1.3" fill="#1a7fd0"/>
<line x1="596.7" y1="208.8" x2="573.7" y2="240.5" stroke="#1a7fd0" stroke-width="0.9" stroke-linecap="round" />
<circle cx="596.7" cy="208.8" r="1.3" fill="#1a7fd0"/>
<line x1="600.6" y1="223.8" x2="600.6" y2="240.7" stroke="#1a7fd0" stroke-width="0.9" stroke-linecap="round" />
<circle cx="600.6" cy="223.8" r="1.3" fill="#1a7fd0"/>
<line x1="661.4" y1="126.0" x2="661.4" y2="163.5" stroke="#1a7fd0" stroke-width="0.9" stroke-linecap="round" />
<circle cx="661.4" cy="126" r="1.3" fill="#1a7fd0"/>
<line x1="580.9" y1="127.0" x2="580.9" y2="160.7" stroke="#1a7fd0" stroke-width="0.9" stroke-linecap="round" />
<circle cx="580.9" cy="127" r="1.3" fill="#1a7fd0"/>
<line x1="706.5" y1="101.0" x2="706.5" y2="145.0" stroke="#1a7fd0" stroke-width="0.9" stroke-linecap="round" />
<circle cx="706.5" cy="101" r="1.3" fill="#1a7fd0"/>
<line x1="203.7" y1="176.5" x2="227.7" y2="178.4" stroke="#1a7fd0" stroke-width="0.9" stroke-linecap="round" />
<circle cx="203.7" cy="176.5" r="1.3" fill="#1a7fd0"/>
<polygon points="746.5,46.0 791.3,45.1 799.4,58.6 755.5,61.4" fill="#c4c4c4" stroke="#555" stroke-width="0.7" stroke-linejoin="round" />
<polygon points="746.5,42.3 791.3,41.4 799.4,54.9 755.5,57.7" fill="#efe5eb" stroke="#555" stroke-width="0.7" stroke-linejoin="round" />
<polygon points="770.1,38.2 782.3,38.2 778.3,57.7 766.9,57.7" fill="#929292" stroke="#555" stroke-width="0.5" stroke-linejoin="round" />
<polygon points="770.1,38.2 782.3,38.2 781.7,41.4 769.5,41.4" fill="#ead8e0" stroke="#555" stroke-width="0.4" stroke-linejoin="round" />
<polygon points="760.0,56.0 768.0,38.0 768.0,34.0 760.0,52.0" fill="#c4c4c4" stroke="none" stroke-width="0" stroke-linejoin="round" />
<path d="M760.0,56.0 L761.0,53.8 L761.0,49.8 L760.0,52.0 Z M761.6,52.4 L762.6,50.2 L762.6,46.2 L761.6,48.4 Z M763.2,48.8 L764.2,46.6 L764.2,42.6 L763.2,44.8 Z M764.8,45.2 L765.8,43.0 L765.8,39.0 L764.8,41.2 Z M766.4,41.6 L767.4,39.4 L767.4,35.4 L766.4,37.6 Z " fill="#fafafa" stroke="#666" stroke-width="0.5" />
<line x1="760.0" y1="56.0" x2="768.0" y2="38.0" stroke="#555" stroke-width="0.6" stroke-linecap="butt" />
<line x1="764.0" y1="35.5" x2="757.5" y2="54.0" stroke="#444" stroke-width="9.4" stroke-linecap="round" />
<line x1="764.0" y1="35.5" x2="757.5" y2="54.0" stroke="#ffffff" stroke-width="8.0" stroke-linecap="round" />
<line x1="761.6" y1="36.8" x2="756.4" y2="51.5" stroke="#9a9a9a" stroke-width="0.6" stroke-linecap="round" />
<polygon points="778.5,56.5 797.7,56.5 803.3,87.0 783.0,87.0" fill="#f4f4f4" stroke="#555" stroke-width="0.6" stroke-linejoin="round" />
<line x1="779.0" y1="61.0" x2="798.5" y2="61.0" stroke="#777" stroke-width="0.6" stroke-linecap="butt" />
<line x1="779.8" y1="65.5" x2="799.3" y2="65.5" stroke="#777" stroke-width="0.6" stroke-linecap="butt" />
<line x1="780.6" y1="70.0" x2="800.1" y2="70.0" stroke="#777" stroke-width="0.6" stroke-linecap="butt" />
<line x1="781.4" y1="74.5" x2="800.9" y2="74.5" stroke="#777" stroke-width="0.6" stroke-linecap="butt" />
<line x1="782.2" y1="79.0" x2="801.7" y2="79.0" stroke="#777" stroke-width="0.6" stroke-linecap="butt" />
<line x1="783.0" y1="83.5" x2="802.5" y2="83.5" stroke="#777" stroke-width="0.6" stroke-linecap="butt" />
<line x1="792.0" y1="55.0" x2="804.5" y2="86.0" stroke="#444" stroke-width="6.4" stroke-linecap="round" />
<line x1="792.0" y1="55.0" x2="804.5" y2="86.0" stroke="#ffffff" stroke-width="5.0" stroke-linecap="round" />
<line x1="791.6" y1="57.3" x2="802.6" y2="84.6" stroke="#9a9a9a" stroke-width="0.6" stroke-linecap="round" />
<polygon points="780.7,91.0 803.3,91.0 827.1,128.4 800.0,128.4" fill="#c4c4c4" stroke="#555" stroke-width="0.7" stroke-linejoin="round" />
<polygon points="780.7,87.0 803.3,87.0 827.1,124.4 800.0,124.4" fill="#efe5eb" stroke="#555" stroke-width="0.7" stroke-linejoin="round" />
<polygon points="794.0,109.6 742.8,155.4 742.8,167.4 794.0,121.6" fill="#c4c4c4" stroke="none" stroke-width="0" stroke-linejoin="round" />
<path d="M794.0,109.6 L791.5,111.9 L791.5,123.9 L794.0,121.6 Z M789.8,113.4 L787.2,115.7 L787.2,127.8 L789.8,125.5 Z M785.5,117.2 L782.9,119.5 L782.9,131.6 L785.5,129.3 Z M781.2,121.0 L778.7,123.3 L778.7,135.4 L781.2,133.1 Z M777.0,124.8 L774.4,127.1 L774.4,139.2 L777.0,136.9 Z M772.7,128.7 L770.1,130.9 L770.1,143.0 L772.7,140.7 Z M768.4,132.5 L765.9,134.8 L765.9,146.8 L768.4,144.5 Z M764.2,136.3 L761.6,138.6 L761.6,150.7 L764.2,148.4 Z M759.9,140.1 L757.3,142.4 L757.3,154.5 L759.9,152.2 Z M755.6,143.9 L753.1,146.2 L753.1,158.3 L755.6,156.0 Z M751.4,147.7 L748.8,150.0 L748.8,162.1 L751.4,159.8 Z M747.1,151.6 L744.5,153.8 L744.5,165.9 L747.1,163.6 Z " fill="#fbfbfb" stroke="#555" stroke-width="0.5" />
<line x1="794.0" y1="109.6" x2="742.8" y2="155.4" stroke="#555" stroke-width="0.6" stroke-linecap="butt" />
<line x1="802.2" y1="118.7" x2="751.0" y2="164.5" stroke="#444" stroke-width="7.4" stroke-linecap="round" />
<line x1="802.2" y1="118.7" x2="751.0" y2="164.5" stroke="#ffffff" stroke-width="6.0" stroke-linecap="round" />
<line x1="799.8" y1="119.0" x2="751.5" y2="162.1" stroke="#9a9a9a" stroke-width="0.6" stroke-linecap="round" />
<rect x="732" y="22.3" width="25.700000000000045" height="12.499999999999996" rx="2" fill="#fcc800"/>
<text x="744.85" y="32.599999999999994" font-size="12.5" fill="#111" font-weight="bold" text-anchor="middle" font-family="Liberation Sans" >A1*</text>
<text x="667.3" y="33.6" font-size="10.3" fill="#111" font-weight="normal" text-anchor="start" font-family="Liberation Sans" textLength="61" lengthAdjust="spacingAndGlyphs" >始発〜22:00</text>
<path d="M58,179.4 L85.2,209.5 L100,212.2 L109,178.3 L119.2,178.3 L150.9,208.8 L153.6,209 L151.3,222.6 L254,243 L267.5,263.5" fill="none" stroke="#0010f0" stroke-width="4.5" stroke-linejoin="miter" stroke-linecap="butt"/>
<path d="M284.8,293 L329.6,350.3 H351.3 V379" fill="none" stroke="#0010f0" stroke-width="4.5" stroke-linejoin="miter" stroke-linecap="butt"/>
<path d="M58,190.7 L58,179.4 L69.4,179.4" fill="none" stroke="#0010f0" stroke-width="4.5" stroke-linecap="butt"/>
<path d="M211.3,228.3 L203.8,232.8 L207.9,240.7" fill="none" stroke="#0010f0" stroke-width="3.5" stroke-linecap="round" stroke-linejoin="round"/>
<path d="M342.5,362 L351.3,353.5 L359.5,362" fill="none" stroke="#0010f0" stroke-width="3.6" stroke-linecap="round" stroke-linejoin="round"/>
<text transform="translate(461.5,182) scale(0.82,1)" x="0" y="0" font-size="19.3" fill="#1c1a88" font-weight="bold" font-family="Liberation Sans" letter-spacing="4.4" stroke="#1c1a88" stroke-width="0.3">B1F</text>
<text transform="translate(161,252.2) scale(0.82,1)" x="0" y="0" font-size="20" fill="#1c1a88" font-weight="bold" font-family="Liberation Sans" letter-spacing="4.4" stroke="#1c1a88" stroke-width="0.3">B2F</text>
<text transform="translate(466.3,260.7) scale(0.82,1)" x="0" y="0" font-size="20" fill="#1c1a88" font-weight="bold" font-family="Liberation Sans" letter-spacing="4.4" stroke="#1c1a88" stroke-width="0.3">B2F</text>
<text transform="translate(461,365.7) scale(0.82,1)" x="0" y="0" font-size="20" fill="#1c1a88" font-weight="normal" font-family="Liberation Sans" letter-spacing="4.4" stroke="#1c1a88" stroke-width="0.5">B3F</text>
</svg></body></html>
